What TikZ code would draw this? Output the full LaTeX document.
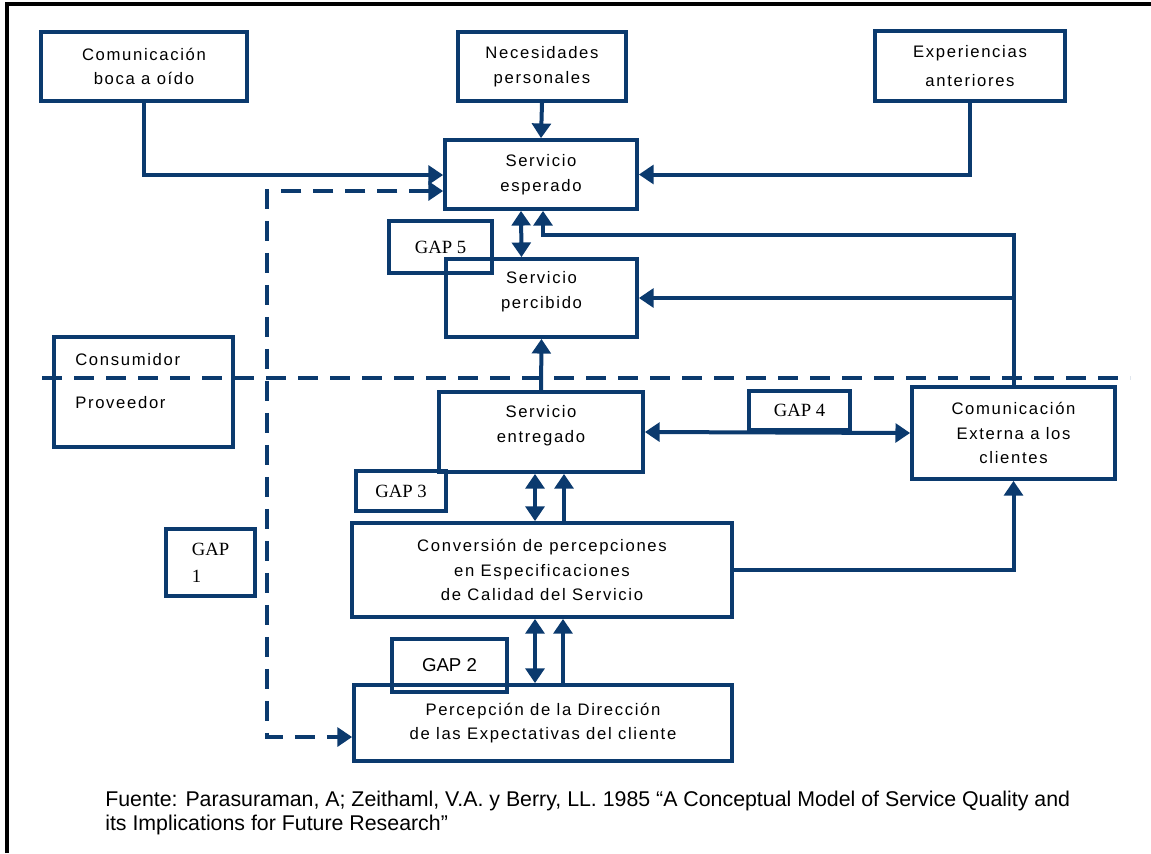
\documentclass[tikz,border=0pt]{standalone}
\usepackage{fontspec}
\usepackage{tikz}
\usetikzlibrary{arrows.meta,calc}
\newfontfamily\boxfont[LetterSpace=10]{Liberation Sans}
\newfontfamily\gapserif{Liberation Serif}
\newfontfamily\gapsans{Liberation Sans}
\definecolor{navy}{HTML}{0B3A6E}

\begin{document}
\begin{tikzpicture}[x=0.75pt,y=-0.75pt,
  caja/.style={draw=navy, line width=2.8pt, inner sep=0pt, align=center, font=\boxfont\fontsize{12.5}{18.5}\selectfont},
  gap/.style={draw=navy, line width=2.8pt, inner sep=0pt, align=left, font=\gapserif\fontsize{14}{20}\selectfont},
  punta/.tip={Triangle[length=11pt,width=14pt]},
  flecha/.style={draw=navy, line width=3pt, -punta},
  doble/.style={draw=navy, line width=3pt, punta-punta},
  raya/.style={draw=navy, line width=3pt, dash pattern=on 15pt off 9pt}]
\useasboundingbox (0,0) rectangle (1151,853);
\draw[line width=3pt] (7,853) -- (7,4) -- (1151,4);

% cajas del modelo
\node[caja, minimum width=154.5pt, minimum height=51.75pt] (boca) at (144,66.5) {Comunicación\\boca a oído};
\node[caja, minimum width=126pt, minimum height=51.75pt] (nec) at (542,66.5) {Necesidades\\personales};
\node[caja, minimum width=142.5pt, minimum height=52.5pt] (exp) at (970,66) {Experiencias\\[3pt]anteriores};
\node[caja, minimum width=144pt, minimum height=51.75pt] (esp) at (541,174.5) {Servicio\\esperado};
\node[caja, minimum width=143.25pt, minimum height=58.5pt, text depth=12pt] (perc) at (541.5,298) {Servicio\\percibido};
\node[caja, minimum width=153pt, minimum height=60pt, text depth=12pt] (entr) at (541,432) {Servicio\\entregado};
\node[caja, minimum width=152.25pt, minimum height=69pt] (ext) at (1013.5,433) {Comunicación\\Externa a los\\clientes};
\node[caja, minimum width=285pt, minimum height=70.5pt] (conv) at (542,570) {Conversión de percepciones\\en Especificaciones\\de Calidad del Servicio};
\node[caja, minimum width=283.5pt, minimum height=57pt] (dir) at (543,723) {Percepción de la Dirección\\de las Expectativas del cliente};

% consumidor / proveedor
\node[caja, minimum width=134.25pt, minimum height=82.5pt] (cons) at (143.5,392) {};
\node[anchor=west, inner sep=0pt, font=\boxfont\fontsize{12.5}{18.5}\selectfont] (consu) at (75,360) {Consumidor};
\node[anchor=west, inner sep=0pt, font=\boxfont\fontsize{12.5}{18.5}\selectfont] (prov) at (75,403) {Proveedor};

% gaps
\node[gap, minimum width=77.25pt, minimum height=39pt] (gap5) at (440.5,247) {GAP 5};
\node[gap, minimum width=66.75pt, minimum height=50.25pt] (gap1) at (210.5,562.5) {GAP\\1};
\node[gap, minimum width=67.5pt, minimum height=30pt] (gap3) at (401,491) {GAP 3};
\node[gap, minimum width=75.75pt, minimum height=29.25pt] (gap4) at (799.5,410.5) {GAP 4};
\node[gap, font=\gapsans\fontsize{14}{20}\selectfont, minimum width=86.25pt, minimum height=39.75pt] (gap2) at (449.5,665.5) {GAP 2};

% conectores
\draw[flecha] (boca.south) |- ($(esp.west)+(0,0.5)$);
\draw[flecha] (nec.south) -- (esp.north);
\draw[flecha] (exp.south) |- (esp.east);
\draw[doble] ($(esp.south)+(-20,0)$) -- ($(perc.north)+(-20,0)$);
\draw[flecha] (ext.north) |- ($(esp.south)+(2,24)$) -- ($(esp.south)+(2,0)$);
\draw[flecha] (ext.north |- perc.east) -- (perc.east);
\draw[flecha] (entr.north) -- (perc.south);
\draw[doble] (entr.east) -- (ext.west);
\draw[doble] ($(entr.south)+(-6,0)$) -- ($(conv.north)+(-7,0)$);
\draw[flecha] ($(conv.north)+(22,0)$) -- ($(entr.south)+(23,0)$);
\draw[doble] ($(conv.south)+(-7,0)$) -- ($(dir.north)+(-8,0)$);
\draw[flecha] ($(dir.north)+(20,0)$) -- ($(conv.south)+(21,0)$);
\draw[flecha] (conv.east) -| (ext.south);
\draw[raya, punta-punta] ($(esp.west)+(0,16.5)$) -- ++(-176,0) |- ($(dir.west)+(0,14)$);
\draw[raya] (42,378) -- (1130,378);

\node[anchor=north west, align=left, inner sep=0pt, font=\gapsans\fontsize{16}{18}\selectfont] (fuente) at (105,791)
  {Fuente: Parasuraman, A; Zeithaml, V.A. y Berry, LL. 1985 “A Conceptual Model of Service Quality and\\its Implications for Future Research”};
\end{tikzpicture}
\end{document}
